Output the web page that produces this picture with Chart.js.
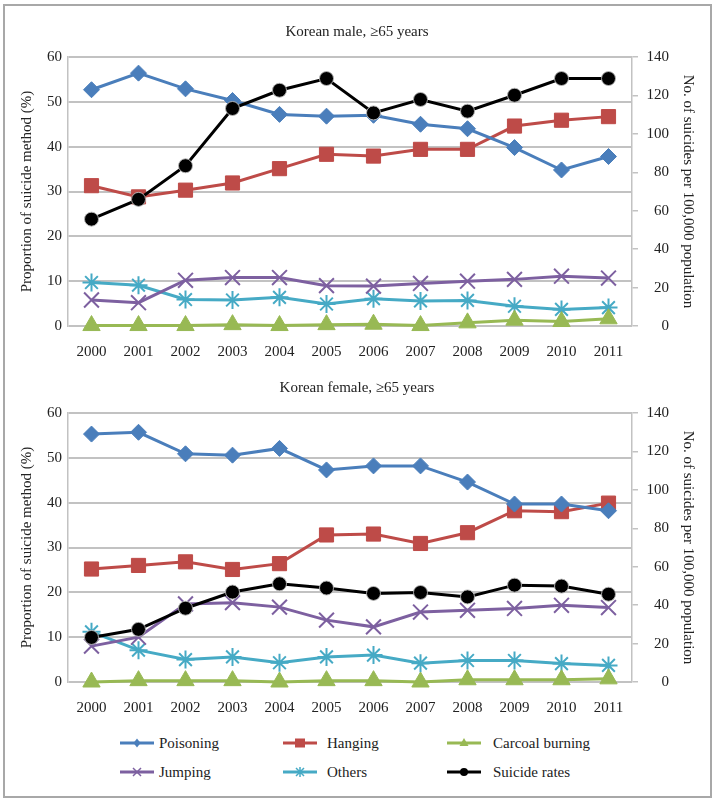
<!DOCTYPE html>
<html>
<head>
<meta charset="utf-8">
<script src="https://cdn.jsdelivr.net/npm/chart.js@4.4.1/dist/chart.umd.min.js"></script>
<style>
  body { margin: 0; background: #fff; }
  #wrap { position: relative; width: 714px; height: 800px; font-family: "Liberation Serif", "DejaVu Serif", serif; color: #222; }
  #frame { position: absolute; left: 3px; top: 4px; width: 709px; height: 794px; box-sizing: border-box; border: 2px solid #a8a8a8; }
  canvas.chart { position: absolute; left: 0; }
  .leg { position: absolute; font-size: 15px; line-height: 18px; white-space: nowrap; }
  .icon { position: absolute; }
</style>
</head>
<body>
<div id="wrap">
  <div id="frame"></div>
  <canvas id="maleChart" class="chart" width="714" height="375" style="top:0px"></canvas>
  <canvas id="femaleChart" class="chart" width="714" height="375" style="top:356px"></canvas>
  <div id="legend"></div>
</div>
<script>
const years = ['2000', '2001', '2002', '2003', '2004', '2005', '2006', '2007', '2008', '2009', '2010', '2011'];

// Korean male, >=65 years (proportions in %, rates per 100,000)
const malePoisoning = [52.7, 56.4, 52.9, 50.3, 47.2, 46.8, 47.0, 45.0, 44.0, 39.8, 34.8, 37.8];
const maleHanging   = [31.3, 28.8, 30.3, 31.9, 35.1, 38.3, 37.9, 39.4, 39.4, 44.6, 45.9, 46.7];
const maleCharcoal  = [0.1, 0.1, 0.1, 0.3, 0.1, 0.3, 0.4, 0.1, 0.7, 1.3, 1.0, 1.6];
const maleJumping   = [5.8, 5.2, 10.2, 10.8, 10.8, 9.0, 8.9, 9.5, 10.0, 10.4, 11.1, 10.7];
const maleOthers    = [9.7, 9.1, 5.9, 5.8, 6.4, 4.9, 6.1, 5.6, 5.7, 4.4, 3.7, 4.1];
const maleRates     = [55.6, 65.9, 83.4, 113.2, 122.7, 128.8, 110.9, 117.9, 111.8, 120.1, 128.8, 128.8];

// Korean female, >=65 years
const femalePoisoning = [55.3, 55.7, 50.9, 50.6, 52.1, 47.3, 48.2, 48.2, 44.6, 39.7, 39.7, 38.2];
const femaleHanging   = [25.2, 26.0, 26.8, 25.1, 26.4, 32.8, 33.0, 30.9, 33.3, 38.2, 38.0, 39.9];
const femaleCharcoal  = [0.0, 0.3, 0.3, 0.3, 0.0, 0.3, 0.3, 0.0, 0.5, 0.5, 0.5, 0.7];
const femaleJumping   = [8.0, 10.0, 17.4, 17.7, 16.7, 13.8, 12.3, 15.6, 16.0, 16.4, 17.1, 16.6];
const femaleOthers    = [11.2, 7.1, 5.0, 5.6, 4.3, 5.6, 6.0, 4.2, 4.8, 4.8, 4.1, 3.7];
const femaleRates     = [23.2, 27.4, 38.4, 46.8, 51.1, 48.9, 46.1, 46.6, 44.3, 50.4, 49.9, 45.7];

const seriesNames = ['Poisoning', 'Hanging', 'Carcoal burning', 'Jumping', 'Others', 'Suicide rates'];
const seriesColors = ['#4a7ebb', '#be4b48', '#98b954', '#7d60a0', '#46aac5', '#000000'];
const seriesStyles = ['rectRot', 'rect', 'triangle', 'crossRot', 'star', 'circle'];
const seriesRadius = [8, 10, 10, 10.5, 9, 7];

const gridColor = '#c2c2c2';
const textColor = '#222';
const serif = { family: '"Liberation Serif", "DejaVu Serif", serif', size: 15 };

function buildDatasets(values) {
    return values.map((data, i) => {
        const isRate = i === 5;
        return {
            label: seriesNames[i],
            data: data,
            yAxisID: isRate ? 'y2' : 'y',
            order: isRate ? -1 : i,
            clip: false,
            borderColor: seriesColors[i],
            backgroundColor: seriesColors[i],
            borderWidth: 3,
            tension: 0,
            pointStyle: seriesStyles[i],
            pointRadius: seriesRadius[i],
            pointHoverRadius: seriesRadius[i],
            pointBackgroundColor: seriesColors[i],
            pointBorderColor: isRate ? 'rgba(185,185,185,0.9)' : seriesColors[i],
            pointBorderWidth: (i === 3 || i === 4) ? 2 : 1
        };
    });
}

function makeChart(canvasId, titleText, values) {
    const ctx = document.getElementById(canvasId).getContext('2d');
    return new Chart(ctx, {
        type: 'line',
        data: { labels: years, datasets: buildDatasets(values) },
        options: {
            responsive: false,
            animation: false,
            layout: { padding: 0 },
            plugins: {
                legend: { display: false },
                tooltip: { enabled: false },
                title: {
                    display: true,
                    text: titleText,
                    color: textColor,
                    font: { ...serif, weight: 'normal' },
                    padding: { top: 23, bottom: 16 }
                }
            },
            scales: {
                x: {
                    offset: true,
                    grid: { display: false, drawTicks: false },
                    border: { display: false },
                    ticks: { color: textColor, font: serif, padding: 17, maxRotation: 0, autoSkip: false },
                    afterFit: (s) => { s.height = 49; }
                },
                y: {
                    position: 'left',
                    min: 0,
                    max: 60,
                    ticks: { stepSize: 10, padding: 6, color: textColor, font: serif },
                    grid: { color: gridColor, lineWidth: 2, drawTicks: false },
                    border: { display: true, color: gridColor, width: 1.5 },
                    title: {
                        display: true,
                        text: 'Proportion of suicide method (%)',
                        color: textColor,
                        font: serif,
                        padding: { top: 18, bottom: 0 }
                    },
                    afterFit: (s) => { s.width = 68; }
                },
                y2: {
                    position: 'right',
                    weight: 0,
                    min: 0,
                    max: 140,
                    ticks: { stepSize: 20, padding: 8, crossAlign: 'far', color: textColor, font: serif },
                    grid: { drawOnChartArea: false, drawTicks: true, tickLength: 6, color: gridColor, lineWidth: 1.5 },
                    border: { display: true, color: gridColor, width: 1.5 },
                    afterFit: (s) => { s.width = 37; }
                },
                // only carries the right-hand title, outside the tick labels
                yTitle: {
                    position: 'right',
                    weight: 1,
                    min: 0,
                    max: 1,
                    ticks: { display: false },
                    grid: { display: false },
                    border: { display: false },
                    title: {
                        display: true,
                        text: 'No. of suicides per 100,000 population',
                        color: textColor,
                        font: serif,
                        padding: { top: 17, bottom: 0 }
                    },
                    afterFit: (s) => { s.width = 45; }
                }
            }
        }
    });
}

makeChart('maleChart', 'Korean male, \u226565 years',
    [malePoisoning, maleHanging, maleCharcoal, maleJumping, maleOthers, maleRates]);
makeChart('femaleChart', 'Korean female, \u226565 years',
    [femalePoisoning, femaleHanging, femaleCharcoal, femaleJumping, femaleOthers, femaleRates]);

// legend: 2 rows x 3 columns below the second chart
function drawIcon(cv, color, style) {
    const ctx = cv.getContext('2d');
    const w = cv.width, cy = cv.height / 2, cx = cv.width / 2;
    ctx.strokeStyle = color;
    ctx.fillStyle = color;
    ctx.lineWidth = 3;
    ctx.beginPath(); ctx.moveTo(0, cy); ctx.lineTo(w, cy); ctx.stroke();
    ctx.lineWidth = 1.5;
    ctx.beginPath();
    if (style === 'rectRot') {
        ctx.moveTo(cx, cy - 4.5); ctx.lineTo(cx + 3.5, cy); ctx.lineTo(cx, cy + 4.5); ctx.lineTo(cx - 3.5, cy); ctx.closePath(); ctx.fill();
    } else if (style === 'rect') {
        ctx.fillRect(cx - 5, cy - 4.5, 10, 9);
    } else if (style === 'triangle') {
        ctx.moveTo(cx, cy - 5); ctx.lineTo(cx + 4.5, cy + 3); ctx.lineTo(cx - 4.5, cy + 3); ctx.closePath(); ctx.fill();
    } else if (style === 'crossRot') {
        ctx.moveTo(cx - 4, cy - 4); ctx.lineTo(cx + 4, cy + 4); ctx.moveTo(cx + 4, cy - 4); ctx.lineTo(cx - 4, cy + 4); ctx.stroke();
    } else if (style === 'star') {
        ctx.moveTo(cx - 4, cy - 4); ctx.lineTo(cx + 4, cy + 4); ctx.moveTo(cx + 4, cy - 4); ctx.lineTo(cx - 4, cy + 4);
        ctx.moveTo(cx, cy - 5); ctx.lineTo(cx, cy + 5); ctx.stroke();
    } else {
        ctx.arc(cx, cy, 4, 0, Math.PI * 2); ctx.fill();
    }
}

const legendEl = document.getElementById('legend');
const iconLeft = [120, 283, 447];
const textLeft = [159, 327, 493];
const rowY = [743, 772];
seriesNames.forEach((name, i) => {
    const col = i % 3, row = Math.floor(i / 3);
    const cv = document.createElement('canvas');
    cv.className = 'icon';
    cv.width = 34; cv.height = 14;
    cv.style.left = iconLeft[col] + 'px';
    cv.style.top = (rowY[row] - 7) + 'px';
    legendEl.appendChild(cv);
    drawIcon(cv, seriesColors[i], seriesStyles[i]);
    const t = document.createElement('div');
    t.className = 'leg';
    t.textContent = name;
    t.style.left = textLeft[col] + 'px';
    t.style.top = (rowY[row] - 9) + 'px';
    legendEl.appendChild(t);
});
</script>
</body>
</html>
